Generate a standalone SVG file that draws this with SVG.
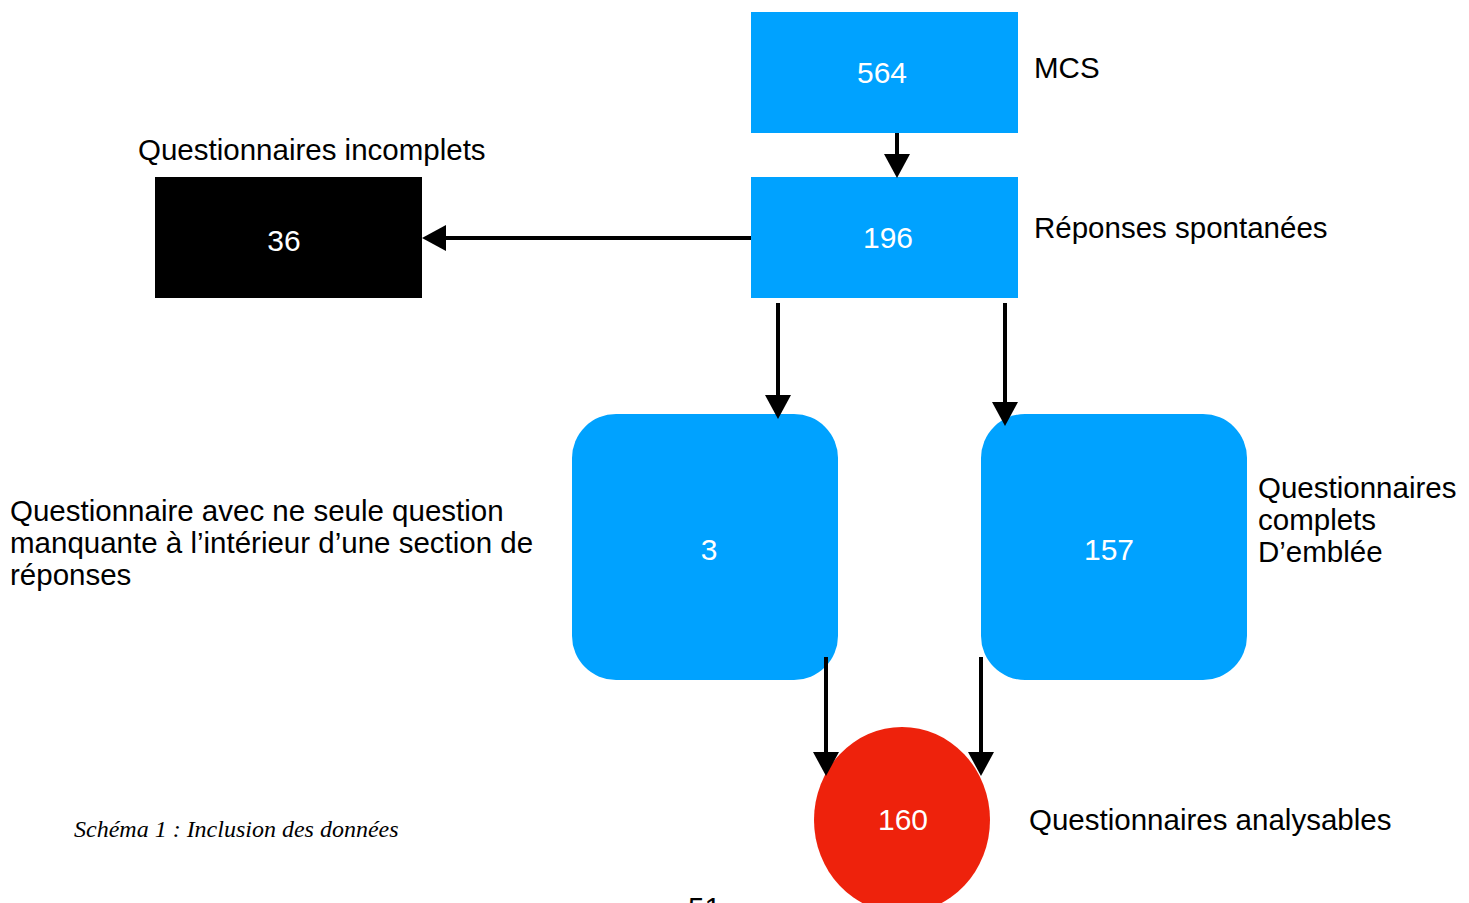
<svg xmlns="http://www.w3.org/2000/svg" width="1469" height="903" viewBox="0 0 1469 903">
<style>
.blue{fill:#00A2FF}
.num{font-family:"Liberation Sans",Arial,Helvetica,sans-serif;font-size:30px;fill:#ffffff;text-anchor:middle}
.lbl{font-family:"Liberation Sans",Arial,Helvetica,sans-serif;font-size:29.5px;fill:#000000}
.cap{font-family:"Liberation Serif","Times New Roman",serif;font-style:italic;font-size:24px;fill:#000000}
.conn{stroke:#000;stroke-width:4;fill:none;marker-end:url(#ah)}
</style>
<defs>
<marker id="ah" markerUnits="userSpaceOnUse" markerWidth="24" markerHeight="26" refX="12" refY="13" orient="auto" viewBox="0 0 24 26">
<path d="M0,0 L24,13 L0,26 z" fill="#000"/>
</marker>
</defs>
<rect width="1469" height="903" fill="#ffffff"/>
<g id="node-564">
<rect class="blue" x="751" y="12" width="267" height="121"/>
<text class="num" x="882" y="83">564</text>
</g>
<g id="node-196">
<rect class="blue" x="751" y="177" width="267" height="121"/>
<text class="num" x="888" y="248">196</text>
</g>
<g id="node-36">
<rect fill="#000000" x="155" y="177" width="267" height="121"/>
<text class="num" x="284" y="251">36</text>
</g>
<g id="node-3">
<rect class="blue" x="572" y="414" width="266" height="266" rx="44" ry="44"/>
<text class="num" x="709" y="560">3</text>
</g>
<g id="node-157">
<rect class="blue" x="981" y="414" width="266" height="266" rx="44" ry="44"/>
<text class="num" x="1109" y="560">157</text>
</g>
<g id="node-160">
<ellipse fill="#EE220C" cx="902" cy="820" rx="88" ry="93"/>
<text class="num" x="903" y="830">160</text>
</g>
<g id="labels">
<text class="lbl" x="1034" y="78">MCS</text>
<text class="lbl" x="138" y="160">Questionnaires incomplets</text>
<text class="lbl" x="1034" y="238">Réponses spontanées</text>
<text class="lbl" x="10" y="521">Questionnaire avec ne seule question</text>
<text class="lbl" x="10" y="553">manquante à l’intérieur d’une section de</text>
<text class="lbl" x="10" y="585">réponses</text>
<text class="lbl" x="1258" y="498">Questionnaires</text>
<text class="lbl" x="1258" y="530">complets</text>
<text class="lbl" x="1258" y="562">D’emblée</text>
<text class="lbl" x="1029" y="830">Questionnaires analysables</text>
<text class="cap" x="74" y="837">Schéma 1 : Inclusion des données</text>
<text class="lbl" x="688" y="918">51</text>
</g>
<g id="connectors">
<line class="conn" x1="897" y1="133" x2="897" y2="166"/>
<line class="conn" x1="751" y1="238" x2="434" y2="238"/>
<line class="conn" x1="778" y1="303" x2="778" y2="407"/>
<line class="conn" x1="1005" y1="303" x2="1005" y2="414"/>
<line class="conn" x1="826" y1="657" x2="826" y2="764"/>
<line class="conn" x1="981" y1="657" x2="981" y2="764"/>
</g>
</svg>
